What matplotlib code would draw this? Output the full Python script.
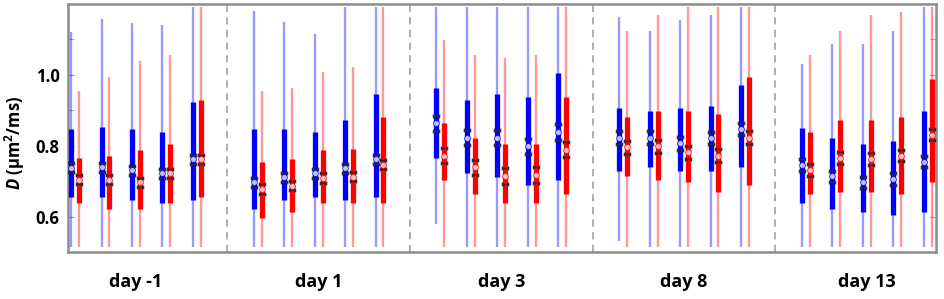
import matplotlib
matplotlib.use("Agg")
import matplotlib.pyplot as plt
import matplotlib.transforms as mtransforms
import numpy as np

plt.rcParams['font.family'] = ['Open Sans', 'DejaVu Sans']
plt.rcParams['font.weight'] = 'bold'
plt.rcParams['mathtext.fontset'] = 'custom'
plt.rcParams['mathtext.rm'] = 'Open Sans:bold'
plt.rcParams['mathtext.it'] = 'Open Sans:bold:italic'
plt.rcParams['mathtext.bf'] = 'Open Sans:bold'

days = ['day -1', 'day 1', 'day 3', 'day 8', 'day 13']

# blue series, 5 boxes per day
blue_q1 = [[0.654, 0.654, 0.647, 0.638, 0.648],
           [0.622, 0.647, 0.654, 0.647, 0.654],
           [0.765, 0.723, 0.713, 0.689, 0.703],
           [0.730, 0.739, 0.730, 0.730, 0.739],
           [0.638, 0.622, 0.614, 0.605, 0.614]]
blue_q3 = [[0.848, 0.854, 0.848, 0.838, 0.922],
           [0.848, 0.848, 0.838, 0.872, 0.947],
           [0.962, 0.930, 0.947, 0.936, 1.006],
           [0.905, 0.897, 0.905, 0.913, 0.972],
           [0.851, 0.822, 0.805, 0.812, 0.897]]
blue_med = [[0.738, 0.739, 0.731, 0.722, 0.762],
            [0.697, 0.711, 0.722, 0.736, 0.762],
            [0.863, 0.823, 0.823, 0.798, 0.839],
            [0.823, 0.823, 0.807, 0.822, 0.847],
            [0.746, 0.714, 0.697, 0.706, 0.755]]
blue_wlo = [[0.515, 0.515, 0.515, 0.515, 0.515],
            [0.515, 0.515, 0.515, 0.515, 0.515],
            [0.580, 0.515, 0.515, 0.515, 0.515],
            [0.532, 0.515, 0.515, 0.515, 0.515],
            [0.515, 0.515, 0.515, 0.515, 0.515]]
blue_whi = [[1.121, 1.158, 1.145, 1.140, 1.190],
            [1.180, 1.148, 1.114, 1.190, 1.190],
            [1.190, 1.190, 1.190, 1.190, 1.190],
            [1.164, 1.123, 1.155, 1.170, 1.190],
            [1.030, 1.088, 1.088, 1.123, 1.190]]

# red series
red_q1 = [[0.639, 0.622, 0.622, 0.638, 0.654],
          [0.597, 0.614, 0.638, 0.638, 0.638],
          [0.704, 0.664, 0.638, 0.638, 0.664],
          [0.714, 0.704, 0.697, 0.670, 0.689],
          [0.664, 0.670, 0.670, 0.664, 0.697]]
red_q3 = [[0.766, 0.772, 0.789, 0.805, 0.928],
          [0.755, 0.763, 0.789, 0.792, 0.880],
          [0.863, 0.822, 0.805, 0.805, 0.938],
          [0.880, 0.897, 0.897, 0.888, 0.995],
          [0.839, 0.872, 0.872, 0.880, 0.988]]
red_med = [[0.704, 0.704, 0.697, 0.722, 0.762],
           [0.678, 0.687, 0.709, 0.713, 0.746],
           [0.772, 0.739, 0.714, 0.718, 0.789],
           [0.795, 0.798, 0.781, 0.772, 0.823],
           [0.731, 0.765, 0.762, 0.772, 0.831]]
red_wlo = [[0.515] * 5 for _ in range(5)]
red_whi = [[0.955, 0.995, 1.040, 1.056, 1.190],
           [0.955, 0.962, 1.007, 1.023, 1.190],
           [1.097, 1.056, 1.047, 1.056, 1.190],
           [1.123, 1.170, 1.190, 1.190, 1.190],
           [1.055, 1.123, 1.170, 1.178, 1.190]]

# notch half widths per day
notch_hw = [0.013, 0.013, 0.022, 0.018, 0.016]

fig = plt.figure(figsize=(9.45, 2.99), dpi=100)
ax = fig.add_axes([0.072, 0.157, 0.918, 0.830])

bowtie = [(-1, 0.5), (1, -0.5), (1, 0.5), (-1, -0.5), (-1, 0.5)]


def draw_box(x, q1, q3, med, wlo, whi, nh, col):
    ax.plot([x, x], [wlo, whi], color=col, lw=1.7, alpha=0.4, solid_capstyle='butt', zorder=2)
    ax.plot([x, x], [q1, q3], color=col, lw=3.8, solid_capstyle='butt', zorder=3)
    ax.plot([x], [med], ls='none', marker='o', ms=4.2, mfc='#f0f0ff', mec=col,
            mew=0.6, alpha=0.8, zorder=4)
    ax.plot([x, x], [med - nh, med + nh], ls='none', marker=bowtie, ms=5,
            color='#2a2a2a', mew=0.4, zorder=6)


for g in range(5):
    for i in range(5):
        pc = g * 6 + i
        draw_box(pc - 0.13, blue_q1[g][i], blue_q3[g][i], blue_med[g][i],
                 blue_wlo[g][i], blue_whi[g][i], notch_hw[g], '#0000ff')
        draw_box(pc + 0.13, red_q1[g][i], red_q3[g][i], red_med[g][i],
                 red_wlo[g][i], red_whi[g][i], notch_hw[g], '#ff0000')

for xd in [5, 11, 17, 23]:
    ax.axvline(xd, color='#a8a8a8', ls=(0, (4, 3)), lw=1.3, zorder=1)

ax.set_xlim(-0.23, 28.26)
ax.set_ylim(0.5, 1.2)
ax.set_xticks([])
ax.set_yticks([0.6, 0.8, 1.0])
ax.set_yticklabels(['0.6', '0.8', '1.0'], fontsize=12, fontweight='bold')
ax.set_yticks([0.7, 0.9, 1.1], minor=True)
ax.tick_params(axis='y', which='both', direction='in', length=4, color='#a0a0a0',
               right=True, pad=6)
for s in ax.spines.values():
    s.set_color('#8c8c8c')
    s.set_linewidth(1.8)

ax.set_ylabel(r'$D$ (µm$^2$/ms)', fontsize=12, fontweight='bold')
ax.yaxis.set_label_coords(-0.047, 0.44)

trans = mtransforms.blended_transform_factory(ax.transData, ax.transAxes)
for g, name in enumerate(days):
    ax.text(g * 6 + 2, -0.12, name, transform=trans, ha='center', va='center',
            fontsize=13, fontweight='bold')

fig.savefig('out.png', dpi=100)
